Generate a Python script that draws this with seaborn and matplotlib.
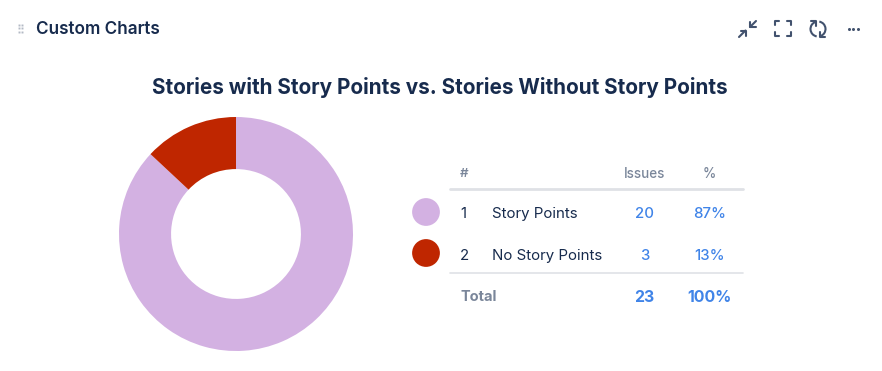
import numpy as np
import matplotlib
matplotlib.use("Agg")
import matplotlib.pyplot as plt
from matplotlib.patches import Arc
import seaborn as sns

categories = ["Story Points", "No Story Points"]
issues = [20, 3]
percents = ["87%", "13%"]
total_issues = "23"
total_percent = "100%"
colors = ["#D3B1E2", "#BF2600"]

NAVY = "#172B4D"
GREY = "#7A869A"
BLUE = "#4084E8"
LINE = "#DFE1E6"
ICON = "#42526E"

sns.set_theme(style="white")
plt.rcParams["font.family"] = ["Inter", "DejaVu Sans"]

W, H = 882, 371
fig = plt.figure(figsize=(W / 100, H / 100), dpi=100, facecolor="white")

# donut
ax = fig.add_axes([119 / W, (H - 351) / H, 234 / W, 234 / H])
ax.pie(issues, colors=sns.color_palette(colors), startangle=90, counterclock=False,
       radius=1, wedgeprops=dict(width=0.445, linewidth=0))
ax.set_xlim(-1, 1)
ax.set_ylim(-1, 1)
ax.set_aspect("equal")

# everything else in pixel coords
ov = fig.add_axes([0, 0, 1, 1], facecolor="none")
ov.set_xlim(0, W)
ov.set_ylim(H, 0)
ov.axis("off")

ov.text(36, 29, "Custom Charts", fontsize=12.3, fontweight="semibold", color=NAVY, va="center")
ov.text(439.5, 88, "Stories with Story Points vs. Stories Without Story Points", fontsize=14.9,
        fontweight="bold", color=NAVY, ha="center", va="center")

# table header
ov.text(460, 174, "#", fontsize=9.6, fontweight="semibold", color=GREY, va="center")
ov.text(644.5, 174, "Issues", fontsize=9.7, fontweight="medium", color=GREY, ha="center", va="center")
ov.text(709.5, 174, "%", fontsize=9.7, fontweight="medium", color=GREY, ha="center", va="center")
ov.plot([450, 743], [189, 189], color=LINE, lw=2, solid_capstyle="round")

# rows
row_y = [212, 254]
sns.scatterplot(x=[426, 426], y=[212, 253], hue=categories, palette=colors, s=400, linewidth=0,
                legend=False, ax=ov, clip_on=False)
ov.set_xlim(0, W)
ov.set_ylim(H, 0)
ov.set_xlabel("")
ov.set_ylabel("")
for i, y in enumerate(row_y):
    ov.text(460, y + 2, str(i + 1), fontsize=10.8, color=NAVY, va="center")
    ov.text(492, y + 2, categories[i], fontsize=10.8, color=NAVY, va="center")
    ov.text(644.5, y + 2, str(issues[i]), fontsize=10.8, fontweight="medium", color=BLUE, ha="center", va="center")
    ov.text(709.5, y + 2, percents[i], fontsize=10.8, fontweight="medium", color=BLUE, ha="center", va="center")
ov.plot([450, 743], [273, 273], color=LINE, lw=1.2)

# total row
ov.text(460.5, 297, "Total", fontsize=10.5, fontweight="bold", color=GREY, va="center")
ov.text(644.5, 297, total_issues, fontsize=11.4, fontweight="bold", color=BLUE, ha="center", va="center")
ov.text(709.5, 297, total_percent, fontsize=11.4, fontweight="bold", color=BLUE, ha="center", va="center")

# drag handle
for px in (18.5, 22):
    for py in (24.5, 28, 31.5):
        ov.plot(px, py, "s", ms=1.4, color="#B3BAC5", mew=0)

# collapse icon
lw = 1.5
ov.plot([739, 745.5], [37, 30.5], color=ICON, lw=lw)
ov.plot([745.5, 745.5, 740.5], [36, 30.5, 30.5], color=ICON, lw=lw)
ov.plot([750, 756], [27, 21], color=ICON, lw=lw)
ov.plot([749.8, 749.8, 755.5], [21.5, 27, 27], color=ICON, lw=lw)

# fullscreen icon
for sx, x0 in ((1, 775), (-1, 791)):
    for sy, y0 in ((1, 21), (-1, 36)):
        ov.plot([x0 + sx * 4, x0, x0], [y0, y0, y0 + sy * 4], color=ICON, lw=lw)

# refresh icon
ov.add_patch(Arc((818, 29), 15, 15, theta1=100, theta2=250, color=ICON, lw=lw))
ov.add_patch(Arc((818, 29), 15, 15, theta1=-80, theta2=70, color=ICON, lw=lw))
ov.plot([811, 816, 816], [21, 21, 26], color=ICON, lw=lw)
ov.plot([820, 820, 825], [32, 37, 37], color=ICON, lw=lw)

# more icon
for px in (848.5, 853, 857.5):
    ov.plot(px, 29, "o", ms=2.2, color=ICON, mew=0)

fig.savefig("out.png", dpi=100, facecolor="white")
